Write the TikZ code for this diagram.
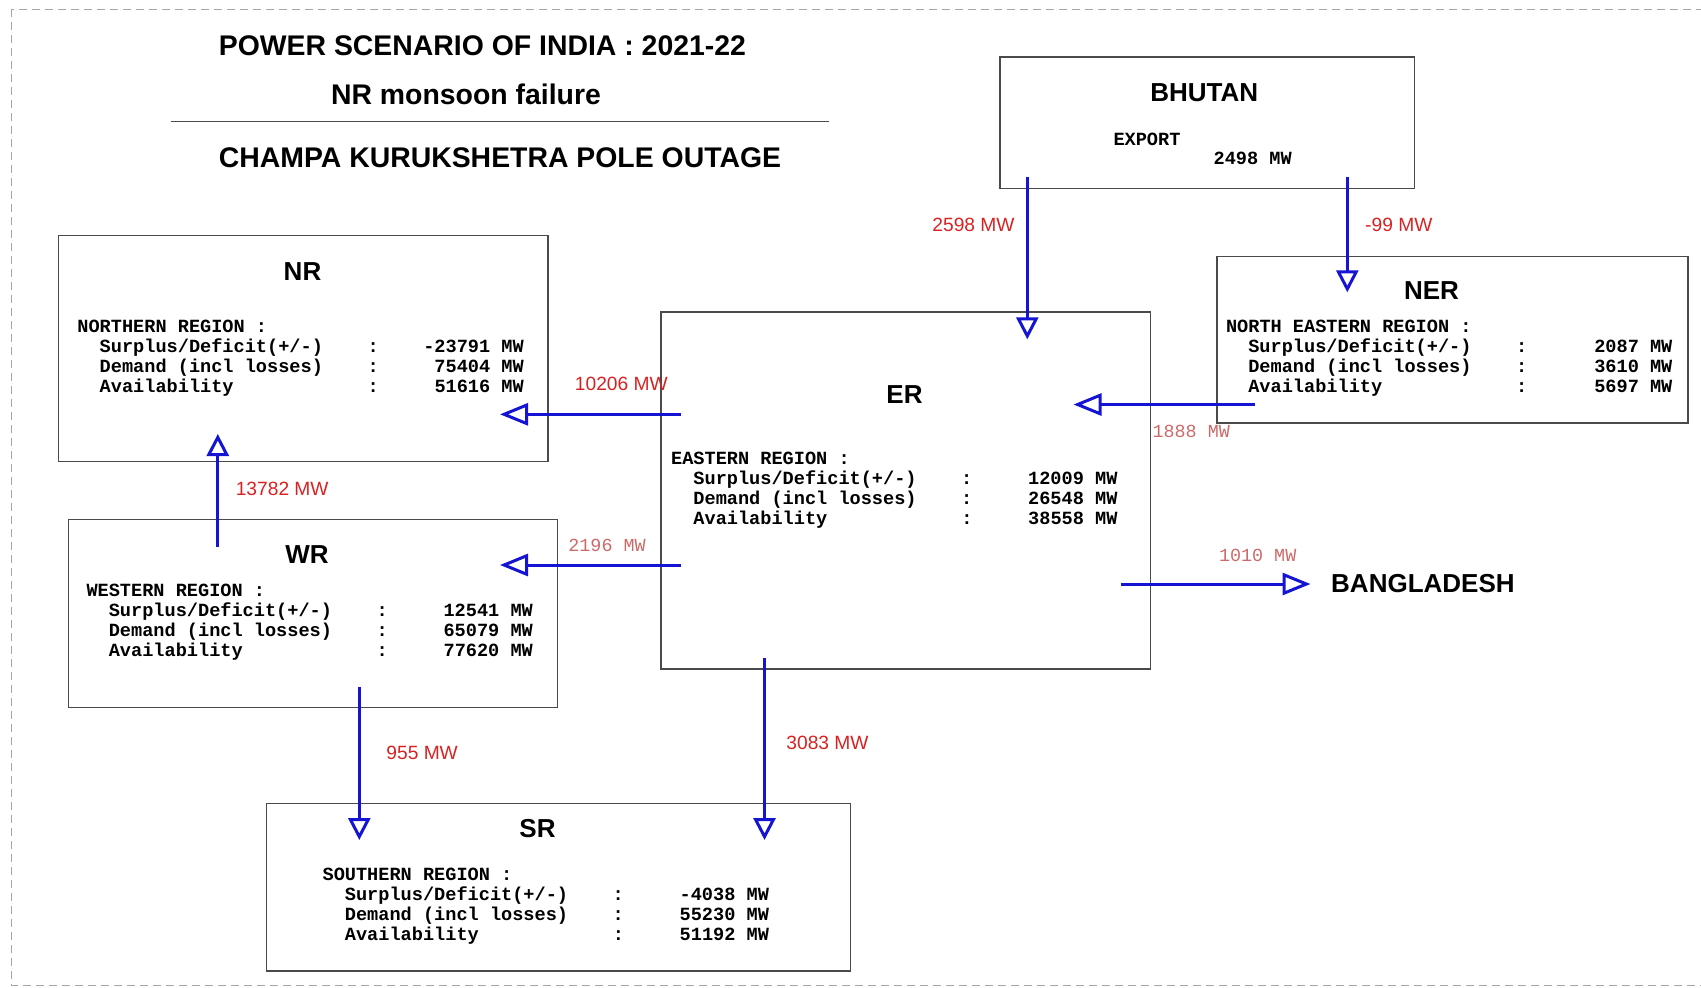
\documentclass[tikz,border=0pt]{standalone}
\usepackage{fontspec}
\setmainfont{Liberation Sans}
\newfontfamily\datafont{Liberation Mono}
\usetikzlibrary{arrows.meta}
\definecolor{flowblue}{HTML}{1414D2}
\definecolor{lblred}{HTML}{D82222}
\definecolor{lblsalmon}{HTML}{CC6A6A}
\definecolor{boxgray}{HTML}{4A4A4A}
\newcommand\datarow[2]{\makebox[15.6em][l]{\hspace{1.2em}#1}\makebox[0.6em]{:}\makebox[7.8em][r]{#2}}
\newcommand\regiondata[7]{%
  \node[dat] (#1-a) at (#2,#3) {#4 :};
  \node[dat] (#1-b) at (#2,#3+20) {\datarow{Surplus/Deficit(+/-)}{#5}};
  \node[dat] (#1-c) at (#2,#3+40) {\datarow{Demand (incl losses)}{#6}};
  \node[dat] (#1-d) at (#2,#3+60) {\datarow{Availability}{#7}};
}
\tikzset{
  dat/.style={anchor=base west, inner sep=0pt, font=\datafont\bfseries\fontsize{9.3}{10}\selectfont},
  regbox/.style={draw=boxgray, line width=0.8pt, anchor=north west, inner sep=0pt},
  head/.style={inner sep=0pt, font=\bfseries\fontsize{13}{15}\selectfont},
  ttl/.style={inner sep=0pt, font=\bfseries\fontsize{14.2}{16}\selectfont},
  lsans/.style={inner sep=0pt, text=lblred, font=\fontsize{9.6}{11}\selectfont},
  lmono/.style={inner sep=0pt, text=lblsalmon, font=\datafont\fontsize{9.2}{11}\selectfont},
  hflow/.style={draw=flowblue, line width=1.5pt, -{Triangle[open, length=14pt, width=11pt]}},
  vflow/.style={draw=flowblue, line width=1.5pt, -{Triangle[open, length=11pt, width=11pt]}},
  frame/.style={draw=gray!70, line width=0.5pt, dash pattern=on 4pt off 2.5pt},
  rule/.style={draw=boxgray, line width=0.7pt}
}
\begin{document}
\begin{tikzpicture}[x=0.5pt, y=-0.5pt]
\useasboundingbox (0,0) rectangle (1701,987);
\draw[frame] (11,9) rectangle (1760,985);

% titles
\node[ttl] (t1) at (482.4,46) {POWER SCENARIO OF INDIA : 2021-22};
\node[ttl] (t2) at (466,94) {NR monsoon failure};
\draw[rule] (170.7,121.7) -- (829.3,121.7);
\node[ttl] (t3) at (500,157.5) {CHAMPA KURUKSHETRA POLE OUTAGE};

% boxes
\node[regbox, minimum width=207.2pt, minimum height=65.65pt] (bhutan) at (999.1,56.4) {};
\node[regbox, minimum width=244.8pt, minimum height=113pt] (nr) at (57.8,234.8) {};
\node[regbox, minimum width=244.6pt, minimum height=94pt] (wr) at (67.5,518.5) {};
\node[regbox, minimum width=244.65pt, minimum height=178.6pt] (er) at (660.4,311) {};
\node[regbox, minimum width=235.5pt, minimum height=83.3pt] (ner) at (1216,255.5) {};
\node[regbox, minimum width=292pt, minimum height=83.6pt] (sr) at (265.7,802.7) {};

% headings
\node[head] (bhutan-h) at (1204.3,93) {BHUTAN};
\node[head] (nr-h) at (302.5,272) {NR};
\node[head] (wr-h) at (307,555) {WR};
\node[head] (er-h) at (904.5,394.5) {ER};
\node[head] (ner-h) at (1431.5,290.8) {NER};
\node[head] (sr-h) at (537.5,829) {SR};
\node[head, anchor=west] (bd) at (1330.8,583.3) {BANGLADESH};

% Bhutan export
\node[dat] (bh-exp) at (1113.1,145.3) {EXPORT};
\node[dat] (bh-val) at (1213.2,164.3) {2498 MW};

% region data
\regiondata{nr}{77}{332.5}{NORTHERN REGION}{-23791 MW}{75404 MW}{51616 MW}
\regiondata{wr}{86.1}{596.9}{WESTERN REGION}{12541 MW}{65079 MW}{77620 MW}
\regiondata{er}{670.7}{464.7}{EASTERN REGION}{12009 MW}{26548 MW}{38558 MW}
\regiondata{ner}{1225.6}{332.7}{NORTH EASTERN REGION}{2087 MW}{3610 MW}{5697 MW}
\regiondata{sr}{322.2}{880.2}{SOUTHERN REGION}{-4038 MW}{55230 MW}{51192 MW}

% arrow end points
\coordinate (bh-er-s) at (1027.3,176.7);
\coordinate (bh-er-e) at (1027.3,339.3);
\coordinate (bh-ner-s) at (1347.3,176.7);
\coordinate (bh-ner-e) at (1347.3,292.3);
\coordinate (er-nr-s) at (680.5,414.3);
\coordinate (er-nr-e) at (500,414.3);
\coordinate (ner-er-s) at (1254.6,404.5);
\coordinate (ner-er-e) at (1073.5,404.5);
\coordinate (wr-nr-s) at (217.8,546.7);
\coordinate (wr-nr-e) at (217.8,434);
\coordinate (er-wr-s) at (680.5,565);
\coordinate (er-wr-e) at (500,565);
\coordinate (er-bd-s) at (1120.7,584);
\coordinate (er-bd-e) at (1310.5,584);
\coordinate (wr-sr-s) at (359.3,686.7);
\coordinate (wr-sr-e) at (359.3,840);
\coordinate (er-sr-s) at (764.5,658.3);
\coordinate (er-sr-e) at (764.5,840);

% arrows
\draw[vflow] (bh-er-s) -- (bh-er-e);
\draw[vflow] (bh-ner-s) -- (bh-ner-e);
\draw[hflow] (er-nr-s) -- (er-nr-e);
\draw[hflow] (ner-er-s) -- (ner-er-e);
\draw[vflow] (wr-nr-s) -- (wr-nr-e);
\draw[hflow] (er-wr-s) -- (er-wr-e);
\draw[hflow] (er-bd-s) -- (er-bd-e);
\draw[vflow] (wr-sr-s) -- (wr-sr-e);
\draw[vflow] (er-sr-s) -- (er-sr-e);

% flow labels
\node[lsans, anchor=east] (l2598) at (1015,225) {2598 MW};
\node[lsans, anchor=west] (l99) at (1364.8,225) {-99 MW};
\node[lsans, anchor=west] (l10206) at (574.5,384) {10206 MW};
\node[lmono, anchor=west] (l1888) at (1152.2,431.7) {1888 MW};
\node[lsans, anchor=west] (l13782) at (235.4,489) {13782 MW};
\node[lmono, anchor=west] (l2196) at (568,545) {2196 MW};
\node[lmono, anchor=west] (l1010) at (1218.6,555) {1010 MW};
\node[lsans, anchor=west] (l955) at (386,753) {955 MW};
\node[lsans, anchor=west] (l3083) at (786,743.3) {3083 MW};
\end{tikzpicture}
\end{document}
